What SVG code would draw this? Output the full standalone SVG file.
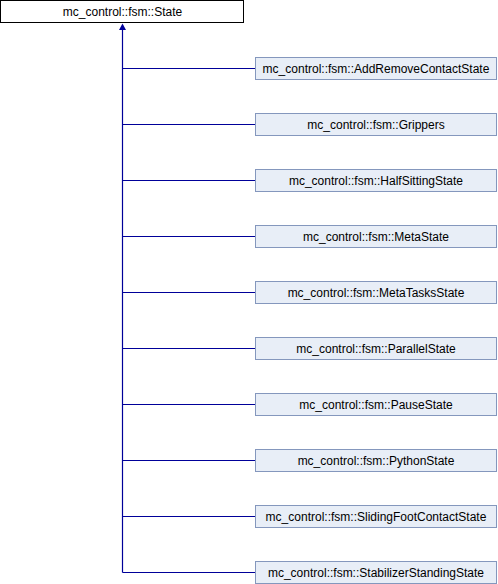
<svg xmlns="http://www.w3.org/2000/svg" width="498" height="584" viewBox="0 0 498 584">
<style>
.base rect{fill:#ffffff;stroke:#000000;stroke-width:1}
.child rect{fill:#e8eef7;stroke:#8497bd;stroke-width:1}
text{font-family:"Liberation Sans",Arial,sans-serif;font-size:12px;fill:#000000;text-anchor:middle}
.conn line,.conn polyline{stroke:#000099;stroke-width:1.2;fill:none}
.conn polygon{fill:#000099}
</style>
<rect width="498" height="584" fill="#ffffff"/>
<g class="conn" id="connectors">
<line x1="122.5" y1="29" x2="122.5" y2="572.5"/>
<polygon points="122.5,23.5 119,30 126,30"/>
<line x1="122.5" y1="68.5" x2="255" y2="68.5"/>
<line x1="122.5" y1="124.5" x2="255" y2="124.5"/>
<line x1="122.5" y1="180.5" x2="255" y2="180.5"/>
<line x1="122.5" y1="236.5" x2="255" y2="236.5"/>
<line x1="122.5" y1="292.5" x2="255" y2="292.5"/>
<line x1="122.5" y1="348.5" x2="255" y2="348.5"/>
<line x1="122.5" y1="404.5" x2="255" y2="404.5"/>
<line x1="122.5" y1="460.5" x2="255" y2="460.5"/>
<line x1="122.5" y1="516.5" x2="255" y2="516.5"/>
<line x1="122.5" y1="572.5" x2="255" y2="572.5"/>
</g>
<g class="base" id="State"><rect x="0.5" y="0.5" width="243" height="22"/><text x="122.5" y="16">mc_control::fsm::State</text></g>
<g class="child" id="AddRemoveContactState"><rect x="255.5" y="57.5" width="241" height="22"/><text x="376" y="73">mc_control::fsm::AddRemoveContactState</text></g>
<g class="child" id="Grippers"><rect x="255.5" y="113.5" width="241" height="22"/><text x="376" y="129">mc_control::fsm::Grippers</text></g>
<g class="child" id="HalfSittingState"><rect x="255.5" y="169.5" width="241" height="22"/><text x="376" y="185">mc_control::fsm::HalfSittingState</text></g>
<g class="child" id="MetaState"><rect x="255.5" y="225.5" width="241" height="22"/><text x="376" y="241">mc_control::fsm::MetaState</text></g>
<g class="child" id="MetaTasksState"><rect x="255.5" y="281.5" width="241" height="22"/><text x="376" y="297">mc_control::fsm::MetaTasksState</text></g>
<g class="child" id="ParallelState"><rect x="255.5" y="337.5" width="241" height="22"/><text x="376" y="353">mc_control::fsm::ParallelState</text></g>
<g class="child" id="PauseState"><rect x="255.5" y="393.5" width="241" height="22"/><text x="376" y="409">mc_control::fsm::PauseState</text></g>
<g class="child" id="PythonState"><rect x="255.5" y="449.5" width="241" height="22"/><text x="376" y="465">mc_control::fsm::PythonState</text></g>
<g class="child" id="SlidingFootContactState"><rect x="255.5" y="505.5" width="241" height="22"/><text x="376" y="521">mc_control::fsm::SlidingFootContactState</text></g>
<g class="child" id="StabilizerStandingState"><rect x="255.5" y="561.5" width="241" height="22"/><text x="376" y="577">mc_control::fsm::StabilizerStandingState</text></g>
</svg>
